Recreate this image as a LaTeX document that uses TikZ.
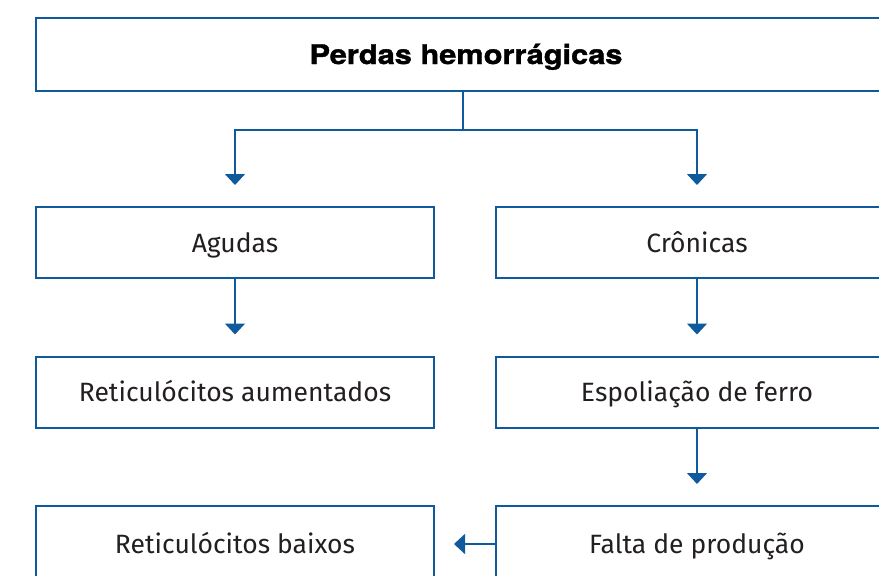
\documentclass[tikz,border=0pt]{standalone}
\usepackage{fontspec}
\setmainfont{Fira Sans}
\newfontfamily\titlefont[FakeStretch=1.14,FakeBold=1.3]{TeX Gyre Heros}
\usetikzlibrary{arrows.meta}
\definecolor{bl}{HTML}{0F5A9C}
\definecolor{tx}{HTML}{231F20}
\begin{document}
\begin{tikzpicture}[x=1pt,y=-1pt,
  box/.style={draw=bl, line width=2pt, rectangle, inner sep=0pt, text=tx,
    font=\fontsize{26.5}{30}\selectfont, text height=19pt, text depth=0pt, minimum height=71pt},
  arr/.style={draw=bl, line width=1.6pt, -{Triangle[width=20pt,length=11pt]}}]
\useasboundingbox (0,0) rectangle (879,576);
\clip (0,0) rectangle (879,576);
\node[box, minimum width=860pt, minimum height=73pt, text=black, font=\titlefont\fontsize{27}{30}\selectfont\bfseries] (top) at (466,54.5) {Perdas hemorrágicas};
\node[box, minimum width=398pt] (ag) at (235,242.5) {Agudas};
\node[box, minimum width=402pt] (cr) at (697,242.5) {Crônicas};
\node[box, minimum width=398pt] (ra) at (235,392) {Reticulócitos aumentados};
\node[box, minimum width=402pt] (ef) at (697,392) {Espoliação de ferro};
\node[box, minimum width=398pt, minimum height=76pt] (rb) at (235,544) {Reticulócitos baixos};
\node[box, minimum width=402pt, minimum height=76pt] (fp) at (697,544) {Falta de produção};
\coordinate (j) at (463,130);
\draw[bl, line width=1.6pt] (top.south -| j) -- (j);
\draw[arr, shorten >=21pt] (j) -| (ag.north);
\draw[arr, shorten >=21pt] (j) -| (cr.north);
\draw[arr, shorten >=21pt] (ag) -- (ra);
\draw[arr, shorten >=21pt] (cr) -- (ef);
\draw[arr, shorten >=21pt] (ef) -- (fp);
\draw[arr, shorten >=19pt] (fp.west) -- (rb.east |- fp.west);
\end{tikzpicture}
\end{document}
